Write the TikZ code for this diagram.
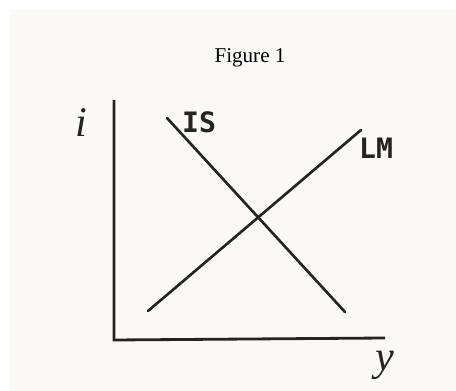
\documentclass[tikz,border=0pt]{standalone}
\usepackage{fontspec}
\setmainfont{Liberation Serif}
\newfontfamily\handfont{DejaVu Sans Mono}
\usetikzlibrary{positioning}
\definecolor{paper}{RGB}{251,249,245}
\definecolor{ink}{RGB}{35,35,35}

\begin{document}
\begin{tikzpicture}[x=0.02cm,y=-0.02cm,
    axis/.style={line width=1.6pt,ink},
    curve/.style={line width=1.5pt,ink,line cap=round},
    lbl/.style={font=\handfont\bfseries\fontsize{16}{16}\selectfont,ink,inner sep=0pt},
    var/.style={font=\fontsize{24}{24}\selectfont\itshape,ink,inner sep=0pt},
]
\useasboundingbox (0,0) rectangle (456,391);
% Paper
\fill[paper] (10,10) rectangle (456,391);

% Title
\node[font=\large] (title) at (250,58) {Figure 1};

% Axes
\coordinate (top) at (114,100);
\coordinate (origin) at (114,340);
\coordinate (right) at (385,338);
\draw[axis] (top) -- (origin) -- (right);

% Curves
\coordinate (isTop) at (167,118);
\coordinate (isBot) at (345,312);
\coordinate (lmBot) at (148,311);
\coordinate (lmTop) at (361,130);
\draw[curve] (isTop) -- (isBot);
\draw[curve] (lmBot) -- (lmTop);

% Labels
\node[var] (iLbl) at (81,123) {i};
\node[var] (yLbl) at (385,365) {y};
\node[lbl] (isLbl) at (199,122) {IS};
\node[lbl] (lmLbl) at (376,148) {LM};
\end{tikzpicture}
\end{document}
